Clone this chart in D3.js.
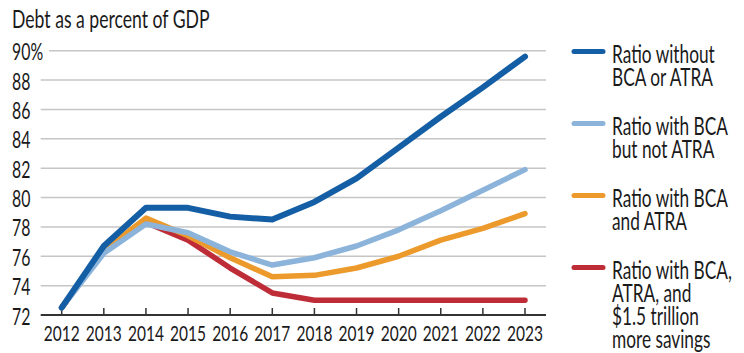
<!DOCTYPE html>
<html>
<head>
<meta charset="utf-8">
<script src="https://cdn.jsdelivr.net/npm/d3@7"></script>
<style>
  html, body { margin: 0; padding: 0; background: #fff; }
  svg { display: block; }
  text { font-family: Lato, "Open Sans", "Noto Sans", sans-serif; fill: #1a1a1a; }
</style>
</head>
<body>
<svg id="chart" width="744" height="353"></svg>
<script>
// Debt-to-GDP projections, 2012–2023 (percent of GDP)
const years = [2012, 2013, 2014, 2015, 2016, 2017, 2018, 2019, 2020, 2021, 2022, 2023];
const withoutBcaOrAtra   = [72.5, 76.7, 79.3, 79.3, 78.7, 78.5, 79.7, 81.3, 83.4, 85.5, 87.5, 89.6];
const withBcaNotAtra     = [72.5, 76.2, 78.2, 77.6, 76.3, 75.4, 75.9, 76.7, 77.8, 79.1, 80.5, 81.9];
const withBcaAndAtra     = [72.5, 76.4, 78.6, 77.4, 75.9, 74.6, 74.7, 75.2, 76.0, 77.1, 77.9, 78.9];
const withBcaAtraSavings = [72.5, 76.4, 78.3, 77.1, 75.2, 73.5, 73.0, 73.0, 73.0, 73.0, 73.0, 73.0];
const yTicks = [72, 74, 76, 78, 80, 82, 84, 86, 88, 90];
const yTickLabels = ["72", "74", "76", "78", "80", "82", "84", "86", "88", "90%"];
const titleText = "Debt as a percent of GDP";

const series = [
  { lines: ["Ratio without", "BCA or ATRA"], values: withoutBcaOrAtra, color: "#135ea4", width: 6 },
  { lines: ["Ratio with BCA", "but not ATRA"], values: withBcaNotAtra, color: "#8cb4da", width: 5.5 },
  { lines: ["Ratio with BCA", "and ATRA"], values: withBcaAndAtra, color: "#ec9a2c", width: 5.5 },
  { lines: ["Ratio with BCA,", "ATRA, and", "$1.5 trillion", "more savings"], values: withBcaAtraSavings, color: "#be2c37", width: 5.5 }
];

const svg = d3.select("#chart");

// Condensed type: squeeze glyphs so a legend line spans about 116px
const probe = svg.append("text").attr("font-size", 24.5).text("Ratio with BCA");
const SX = 116 / probe.node().getComputedTextLength();
probe.remove();

const x = d3.scaleLinear().domain([2012, 2023]).range([61.7, 525]);
const y = d3.scaleLinear().domain([72, 90]).range([315, 50.7]);
const plotLeft = 40.7, plotRight = 546;

function label(parent, px, py, str, size, anchor) {
  return parent.append("text")
    .attr("transform", `translate(${px},${py}) scale(${SX},1)`)
    .attr("font-size", size)
    .attr("text-anchor", anchor || "start")
    .text(str);
}

// Title
label(svg, 12, 27.5, titleText, 25);

// Y labels and horizontal gridlines
const grid = svg.append("g");
const yLab = svg.append("g");
yTicks.forEach((t, i) => {
  const lab = label(yLab, 12, y(t) + 9.5, yTickLabels[i], 22.5);
  if (t === 72) return;
  const w = lab.node().getComputedTextLength() * SX;
  const x0 = Math.max(plotLeft, 12 + w + 6);
  grid.append("line")
    .attr("x1", x0).attr("x2", plotRight)
    .attr("y1", y(t)).attr("y2", y(t))
    .attr("stroke", "#c6c6c6").attr("stroke-width", 1.5);
});

// Baseline with inward year ticks
const xAxis = svg.append("g");
xAxis.append("line")
  .attr("x1", plotLeft).attr("x2", plotRight)
  .attr("y1", y(72)).attr("y2", y(72))
  .attr("stroke", "#333").attr("stroke-width", 2);
years.forEach(yr => {
  xAxis.append("line")
    .attr("x1", x(yr)).attr("x2", x(yr))
    .attr("y1", y(72)).attr("y2", y(72) - 7)
    .attr("stroke", "#333").attr("stroke-width", 1.5);
  label(xAxis, x(yr), 341, String(yr), 22, "middle");
});

// Series lines, lowest scenario drawn first
const line = d3.line().x((d, i) => x(years[i])).y(d => y(d));
const lineG = svg.append("g");
series.slice().reverse().forEach(s => {
  lineG.append("path")
    .datum(s.values)
    .attr("d", line)
    .attr("fill", "none")
    .attr("stroke", s.color)
    .attr("stroke-width", s.width)
    .attr("stroke-linejoin", "round")
    .attr("stroke-linecap", "round");
});

// Legend
const legend = svg.append("g");
const entryBaselines = [62.5, 134.5, 206.5, 278.5];
series.forEach((s, i) => {
  const b = entryBaselines[i];
  legend.append("line")
    .attr("x1", 574).attr("x2", 603)
    .attr("y1", b - 11).attr("y2", b - 11)
    .attr("stroke", s.color).attr("stroke-width", 5)
    .attr("stroke-linecap", "round");
  s.lines.forEach((t, j) => label(legend, 612, b + j * 23.3, t, 24.5));
});
</script>
</body>
</html>
